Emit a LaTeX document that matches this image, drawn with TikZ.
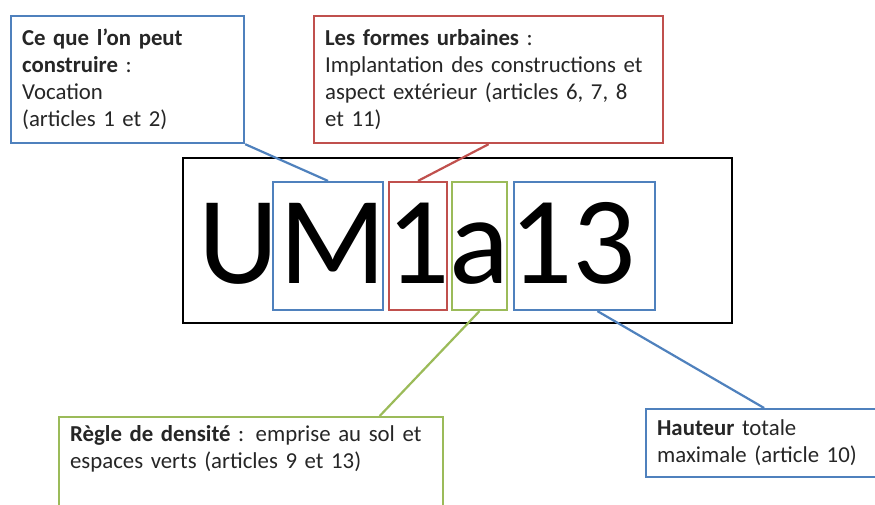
\documentclass[tikz,border=0pt]{standalone}
\usepackage{fontspec}
\setmainfont{Carlito}
\usetikzlibrary{calc}

\definecolor{bleu}{RGB}{79,129,189}
\definecolor{rouge}{RGB}{192,80,77}
\definecolor{vert}{RGB}{155,187,89}

\begin{document}
\begin{tikzpicture}[x=1pt, y=-1pt,
  legende/.style={draw, line width=2.2pt, fill=white, anchor=north west, align=left,
    inner xsep=11pt, font=\fontsize{22.8}{27}\selectfont, text=black!85},
  lettre/.style={draw, line width=2.2pt, minimum height=128pt, inner sep=0pt},
  trait/.style={line width=2.2pt}]
  \useasboundingbox (0,0) rectangle (875,505);

  % Code de la zone
  \node[draw, line width=2.8pt, minimum width=549pt, minimum height=165pt] (cadre) at (457.5,240.5) {};
  \node[font=\fontsize{125}{125}\selectfont, inner sep=0pt, anchor=base] (code) at (417.5,283) {UM1a13};

  % Cases autour des lettres
  \node[lettre, draw=bleu, minimum width=110pt] (caseM) at (328,246) {};
  \node[lettre, draw=rouge, minimum width=58pt] (caseun) at (418,246) {};
  \node[lettre, draw=vert, minimum width=55pt] (casea) at (479.5,246) {};
  \node[lettre, draw=bleu, minimum width=141pt] (casetreize) at (584.5,246) {};

  % Legendes
  \node[legende, draw=bleu, text width=211pt, minimum height=127pt] (vocation) at (10,15)
    {\textbf{Ce que l’on peut}\\ \textbf{construire} :\\ Vocation\\ (articles 1 et 2)};
  \node[legende, draw=rouge, text width=327pt, minimum height=127pt] (formes) at (313,15)
    {\textbf{Les formes urbaines} :\\ Implantation des constructions et\\ aspect extérieur (articles 6, 7, 8\\ et 11)};
  \node[legende, draw=vert, text width=362pt, inner ysep=8pt, text depth=110pt] (densite) at (58,416)
    {\textbf{Règle de densité} : emprise au sol et\\ espaces verts (articles 9 et 13)};
  \node[legende, draw=bleu, text width=214pt, minimum height=68pt] (hauteur) at (645,408)
    {\textbf{Hauteur} totale\\ maximale (article 10)};

  % Liens
  \draw[trait, bleu] (vocation.south east) -- (caseM.north);
  \draw[trait, rouge] (formes.south) -- (caseun.north);
  \draw[trait, vert] ($(densite.north west)!0.833!(densite.north east)$) -- (casea.south);
  \draw[trait, bleu] (hauteur.north) -- ($(casetreize.south west)!0.59!(casetreize.south east)$);
\end{tikzpicture}
\end{document}
